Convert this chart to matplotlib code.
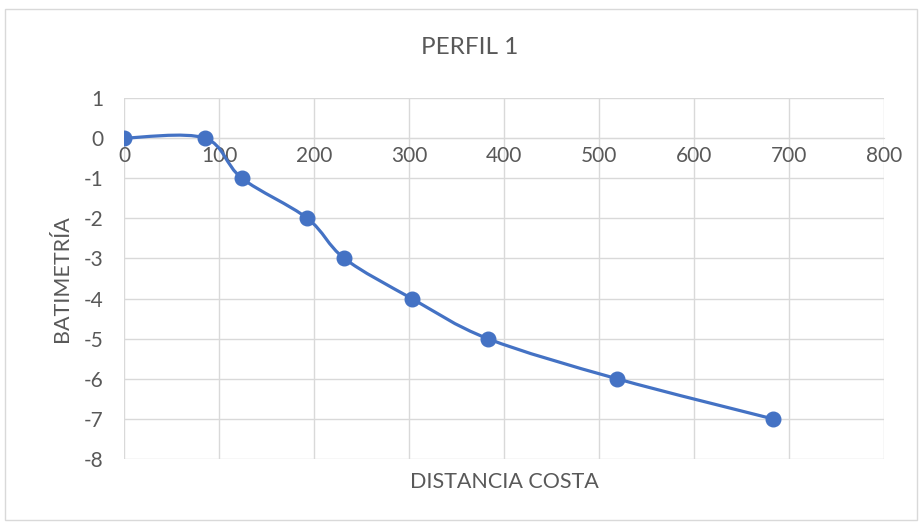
import numpy as np
import matplotlib.pyplot as plt
from matplotlib.path import Path
from matplotlib.patches import PathPatch, Rectangle

# data
distancia = [0, 85, 124, 193, 232, 303, 383, 519, 683]
batimetria = [0, 0, -1, -2, -3, -4, -5, -6, -7]
xticks = [0, 100, 200, 300, 400, 500, 600, 700, 800]
yticks = [1, 0, -1, -2, -3, -4, -5, -6, -7, -8]

azul = '#4472C4'
gris_txt = '#595959'
gris_grid = '#D9D9D9'

plt.rcParams['font.family'] = ['Lato', 'DejaVu Sans']
plt.rcParams['axes.unicode_minus'] = False

fig = plt.figure(figsize=(9.2, 5.24), dpi=100)
ax = fig.add_axes([124 / 920, 65 / 524, 760 / 920, 361 / 524])

# excel-like smoothed line: cubic bezier segments through the points
pts = np.column_stack([distancia, batimetria]).astype(float)
ext = np.vstack([pts[0], pts, pts[-1]])
verts = [tuple(pts[0])]
codes = [Path.MOVETO]
for i in range(len(pts) - 1):
    p0, p1, p2, p3 = ext[i], ext[i + 1], ext[i + 2], ext[i + 3]
    c1 = p1 + (p2 - p0) / 6
    c2 = p2 - (p3 - p1) / 6
    verts += [tuple(c1), tuple(c2), tuple(p2)]
    codes += [Path.CURVE4] * 3
ax.add_patch(PathPatch(Path(verts, codes), facecolor='none', edgecolor=azul,
                       lw=2.3, capstyle='round', joinstyle='round', zorder=3))
ax.plot(distancia, batimetria, 'o', color=azul, ms=10.5, zorder=4)

ax.set_xlim(0, 800)
ax.set_ylim(-8, 1)
ax.set_xticks(xticks)
ax.set_yticks(yticks)
ax.grid(True, color=gris_grid, lw=1)
ax.set_axisbelow(True)
for s in ['top', 'right', 'left']:
    ax.spines[s].set_visible(False)
ax.spines['bottom'].set_position(('data', 0))
ax.spines['bottom'].set_color(gris_grid)
ax.tick_params(length=0, labelsize=15, labelcolor=gris_txt)
ax.tick_params(axis='y', pad=15)
ax.tick_params(axis='x', pad=6)

ax.set_xlabel('DISTANCIA COSTA', fontsize=15.5, color=gris_txt)
ax.xaxis.set_label_coords(0.5, -0.035)
ax.set_ylabel('BATIMETRÍA', fontsize=15.5, color=gris_txt)
ax.yaxis.set_label_coords(-0.068, 0.5)

fig.text(470 / 920, 1 - 47 / 524, 'PERFIL 1', fontsize=17.5, color=gris_txt,
         ha='center', va='center')

fig.patches.append(Rectangle((5 / 920, 4 / 524), 912 / 920, 511 / 524,
                             transform=fig.transFigure, fill=False,
                             edgecolor='#D9D9D9', lw=1))

fig.savefig('out.png', dpi=100, facecolor='white')
